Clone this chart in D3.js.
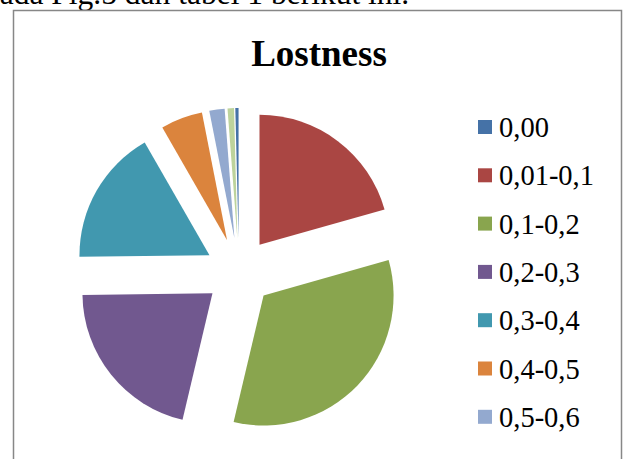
<!DOCTYPE html>
<html>
<head>
<meta charset="utf-8">
<script src="https://cdn.jsdelivr.net/npm/d3@7"></script>
<style>
  html, body { margin: 0; padding: 0; background: #fff; }
  svg { display: block; font-family: 'Liberation Serif', 'Times New Roman', serif; }
</style>
</head>
<body>
<div id="chart"></div>
<script>
// lostness distribution (share of respondents, %)
const categories = ['0,00', '0,01-0,1', '0,1-0,2', '0,2-0,3', '0,3-0,4', '0,4-0,5', '0,5-0,6', '0,6-0,7']
const values = [0.4, 20.6, 33.1, 21.1, 16.9, 5.2, 1.9, 0.8]
const colors = ['#4572A7', '#AA4643', '#89A54E', '#71588F', '#4198AF', '#DB843D', '#93A9CF', '#BDD39C']
// the legend only has room for the first seven entries
const legendCount = 7

const width = 624
const height = 459
const cx = 239
const cy = 272
const radius = 130
const explode = 34

const svg = d3.select('#chart')
  .append('svg')
  .attr('width', width)
  .attr('height', height)

// body text of the page, cut by the top edge
svg.append('text')
  .attr('x', -16)
  .attr('y', 4)
  .attr('font-size', 31.5)
  .attr('fill', '#000')
  .text('pada Fig.5 dan tabel 1 berikut ini.')

// chart frame
svg.append('rect')
  .attr('x', 13.5)
  .attr('y', 10.5)
  .attr('width', 608)
  .attr('height', 470)
  .attr('fill', '#fff')
  .attr('stroke', '#878787')
  .attr('stroke-width', 1.5)

svg.append('text')
  .attr('x', 319)
  .attr('y', 66)
  .attr('text-anchor', 'middle')
  .attr('font-size', 37)
  .attr('font-weight', 'bold')
  .text('Lostness')

const total = d3.sum(values)
const offset = values[0] / total * 2 * Math.PI

const pie = d3.pie()
  .sort(null)
  .startAngle(-offset)
  .endAngle(2 * Math.PI - offset)

const arc = d3.arc().innerRadius(0).outerRadius(radius)

const g = svg.append('g').attr('transform', `translate(${cx},${cy})`)

g.selectAll('path')
  .data(pie(values))
  .join('path')
  .attr('d', arc)
  .attr('fill', (d, i) => colors[i])
  .attr('transform', (d) => {
    const a = (d.startAngle + d.endAngle) / 2
    return `translate(${explode * Math.sin(a)},${-explode * Math.cos(a)})`
  })

const legend = svg.append('g')
  .selectAll('g')
  .data(categories.slice(0, legendCount))
  .join('g')
  .attr('transform', (d, i) => `translate(478,${137 + i * 48.3})`)

legend.append('rect')
  .attr('x', 0)
  .attr('y', -17)
  .attr('width', 14)
  .attr('height', 14)
  .attr('fill', (d, i) => colors[i])

legend.append('text')
  .attr('x', 21)
  .attr('y', 0)
  .attr('font-size', 28.5)
  .text((d) => d)
</script>
</body>
</html>
